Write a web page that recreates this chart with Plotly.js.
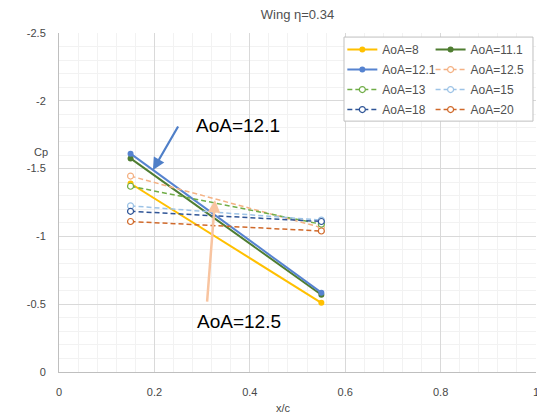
<!DOCTYPE html>
<html>
<head>
<meta charset="utf-8">
<script src="https://cdn.plot.ly/plotly-3.0.1.min.js"></script>
<style>html,body{margin:0;padding:0;background:#fff;}#chart{width:537px;height:416px;}</style>
</head>
<body>
<div id="chart"></div>
<script>
// ---- data ----
var xPos = [0.15, 0.55];
var seriesNames = ["AoA=8", "AoA=11.1", "AoA=12.1", "AoA=12.5", "AoA=13", "AoA=15", "AoA=18", "AoA=20"];
var aoa8   = [-1.39, -0.51];
var aoa111 = [-1.575, -0.57];
var aoa121 = [-1.61, -0.585];
var aoa125 = [-1.445, -1.065];
var aoa13  = [-1.37, -1.09];
var aoa15  = [-1.225, -1.12];
var aoa18  = [-1.185, -1.11];
var aoa20  = [-1.11, -1.04];
var seriesValues = [aoa8, aoa111, aoa121, aoa125, aoa13, aoa15, aoa18, aoa20];
var xTickVals = [0, 0.2, 0.4, 0.6, 0.8, 1];
var xTickText = ["0", "0.2", "0.4", "0.6", "0.8", "1"];
var yTickVals = [0, -0.5, -1, -1.5, -2, -2.5];
var yTickText = ["0", "-0.5", "-1", "-1.5", "-2", "-2.5"];

// ---- styles ----
var colors = ["#FFC000", "#4F7D31", "#5683D0", "#F4B183", "#70AD47", "#9DC3E6", "#2F5597", "#D0692A"];
var solid  = [true, true, true, false, false, false, false, false];

var traces = seriesNames.map(function (name, i) {
  var s = solid[i];
  return {
    type: "scatter",
    mode: "lines+markers",
    name: name,
    x: xPos,
    y: seriesValues[i],
    legend: (i % 2 === 0) ? "legend" : "legend2",
    legendgroup: name,
    line: { color: colors[i], width: s ? 2 : 1.5, dash: s ? "solid" : "5px,3px" },
    marker: s ? { color: colors[i], size: 6, symbol: "circle" }
              : { color: "#ffffff", size: 6, symbol: "circle", line: { color: colors[i], width: 1.2 } }
  };
});

var FAM = "Liberation Sans, Arial, sans-serif";
var tickFont = { family: FAM, size: 11, color: "#474747" };
var legendFont = { family: FAM, size: 12, color: "#505050" };

var layout = {
  width: 537, height: 416,
  margin: { l: 59, r: 1, t: 33, b: 44, pad: 0 },
  paper_bgcolor: "#ffffff", plot_bgcolor: "#ffffff",
  showlegend: true,
  title: { text: "Wing η=0.34", x: 0.5, xref: "paper", y: 0.966, yanchor: "middle",
           font: { family: FAM, size: 13, color: "#505050" } },
  xaxis: {
    range: [0, 1], tickvals: xTickVals, ticktext: xTickText,
    showgrid: true, gridcolor: "#D9D9D9", gridwidth: 1,
    minor: { dtick: 0.04, showgrid: true, gridcolor: "#F2F2F2", gridwidth: 1 },
    showline: true, linecolor: "#BFBFBF", linewidth: 1,
    zeroline: false, ticks: "", tickfont: tickFont, ticklabelstandoff: 10,
    ticklabeloverflow: "allow", fixedrange: true
  },
  yaxis: {
    range: [0, -2.5], tickvals: yTickVals, ticktext: yTickText,
    showgrid: true, gridcolor: "#D9D9D9", gridwidth: 1,
    minor: { dtick: 0.1, showgrid: true, gridcolor: "#F2F2F2", gridwidth: 1 },
    showline: true, linecolor: "#BFBFBF", linewidth: 1,
    zeroline: false, ticks: "", tickfont: tickFont, ticklabelstandoff: 10,
    ticklabeloverflow: "allow", fixedrange: true
  },
  legend: {
    x: 0.594, xanchor: "left", y: 0.994, yanchor: "top",
    bgcolor: "rgba(0,0,0,0)", borderwidth: 0, font: legendFont,
    orientation: "v", tracegroupgap: 1
  },
  legend2: {
    x: 0.779, xanchor: "left", y: 0.994, yanchor: "top",
    bgcolor: "rgba(0,0,0,0)", borderwidth: 0, font: legendFont,
    orientation: "v", tracegroupgap: 1
  },
  shapes: [{
    type: "rect", xref: "paper", yref: "paper", layer: "above",
    x0: 0.5975, x1: 0.9937, y0: 0.740, y1: 0.988,
    line: { color: "#BFBFBF", width: 1 }, fillcolor: "#ffffff"
  }],
  annotations: [
    { text: "Cp", xref: "paper", yref: "paper", x: -0.038, y: 0.649, xanchor: "center", yanchor: "middle",
      showarrow: false, font: { family: FAM, size: 11, color: "#474747" } },
    { text: "x/c", xref: "paper", yref: "paper", x: 0.47, y: -0.107, xanchor: "center", yanchor: "middle",
      showarrow: false, font: { family: FAM, size: 11, color: "#474747" } },
    { text: "AoA=12.1", xref: "paper", yref: "paper", x: 0.375, y: 0.726, xanchor: "center", yanchor: "middle",
      showarrow: false, font: { family: FAM, size: 19, color: "#000000" } },
    { text: "AoA=12.5", xref: "paper", yref: "paper", x: 0.377, y: 0.150, xanchor: "center", yanchor: "middle",
      showarrow: false, font: { family: FAM, size: 19, color: "#000000" } },
    { text: "", xref: "x", yref: "y", x: 0.197, y: -1.49, ax: 26, ay: -45,
      showarrow: true, arrowhead: 2, arrowsize: 1.1, arrowwidth: 2.2, arrowcolor: "#4F7FC8", standoff: 0 },
    { text: "", xref: "x", yref: "y", x: 0.327, y: -1.268, ax: -8, ay: 103,
      showarrow: true, arrowhead: 2, arrowsize: 1, arrowwidth: 2.5, arrowcolor: "#F8C4A0", standoff: 0 }
  ]
};

Plotly.newPlot("chart", traces, layout, { staticPlot: true, displayModeBar: false });
</script>
</body>
</html>
